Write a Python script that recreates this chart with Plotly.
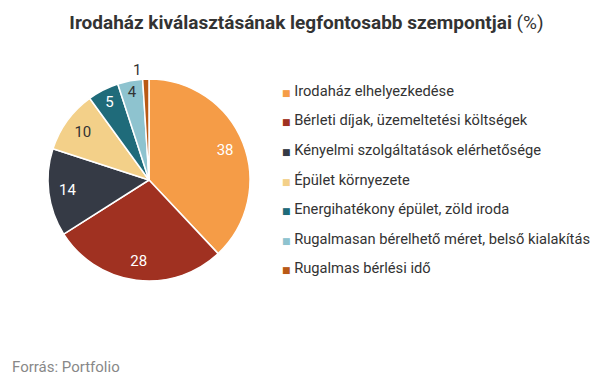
import plotly.graph_objects as go

categories = [
    "Irodaház elhelyezkedése",
    "Bérleti díjak, üzemeltetési költségek",
    "Kényelmi szolgáltatások elérhetősége",
    "Épület környezete",
    "Energihatékony épület, zöld iroda",
    "Rugalmasan bérelhető méret, belső kialakítás",
    "Rugalmas bérlési idő",
]
values = [38, 28, 14, 10, 5, 4, 1]
colors = ["#F59C47", "#A03121", "#353A45", "#F3D089", "#1F6B7A", "#8EC3CF", "#B95915"]
label_colors = ["#FFFFFF", "#FFFFFF", "#FFFFFF", "#333333", "#FFFFFF", "#333333", "#333333"]
text_positions = ["inside", "inside", "inside", "inside", "inside", "inside", "outside"]

# page body has an 8px margin, so the figure is drawn 8px in from the corner
OFF = 8
W, H = 605 - OFF, 378 - OFF


def px_x(x):
    return (x - OFF) / W


def px_y(y):
    return 1 - (y - OFF) / H


pie_domain = dict(x=[px_x(48), px_x(250)], y=[px_y(281), px_y(79)])

fig = go.Figure()
# the coloured pie
fig.add_trace(go.Pie(
    labels=categories, values=values, sort=False, direction="clockwise", rotation=0,
    marker=dict(colors=colors, line=dict(color="white", width=1.5)),
    textinfo="none", domain=pie_domain, showlegend=False, hoverinfo="label+value",
))
# transparent ring overlay that carries the value labels near the rim
fig.add_trace(go.Pie(
    labels=categories, values=values, sort=False, direction="clockwise", rotation=0,
    hole=0.62,
    marker=dict(colors=["rgba(0,0,0,0)"] * len(values), line=dict(width=0)),
    textinfo="value", textposition=text_positions,
    insidetextorientation="horizontal",
    textfont=dict(family="Roboto", size=15, color=label_colors),
    outsidetextfont=dict(family="Roboto", size=15, color="#333333"),
    domain=pie_domain, showlegend=False, hoverinfo="skip",
))
# legend entries: small coloured square glyph right next to the label
for c, col in zip(categories, colors):
    fig.add_trace(go.Scatter(
        x=[None], y=[None], mode="markers", legendgroup=c,
        name=f'<span style="color:{col};font-size:9px;font-family:DejaVu Sans">■</span> {c}',
        marker=dict(symbol="square", size=1, color="rgba(0,0,0,0)"),
    ))

fig.update_layout(
    width=W, height=H,
    margin=dict(l=0, r=0, t=0, b=0),
    paper_bgcolor="white", plot_bgcolor="white",
    font=dict(family="Roboto", color="#333333"),
    title=dict(
        text="<b>Irodaház kiválasztásának legfontosabb szempontjai</b> (%)",
        x=0.5, xanchor="center", y=px_y(22), yanchor="middle",
        font=dict(family="Roboto", size=19, color="#333333"),
    ),
    xaxis=dict(visible=False), yaxis=dict(visible=False),
    legend=dict(
        x=px_x(242), xanchor="left", y=px_y(74), yanchor="top",
        font=dict(family="Roboto", size=14.7, color="#333333"),
        tracegroupgap=7.5, bgcolor="rgba(0,0,0,0)",
    ),
    annotations=[dict(
        text="Forrás: Portfolio", x=px_x(10), xanchor="left", y=px_y(367), yanchor="middle",
        xref="paper", yref="paper", showarrow=False,
        font=dict(family="Roboto", size=15, color="#888888"),
    )],
)
fig.write_html("out.html")
